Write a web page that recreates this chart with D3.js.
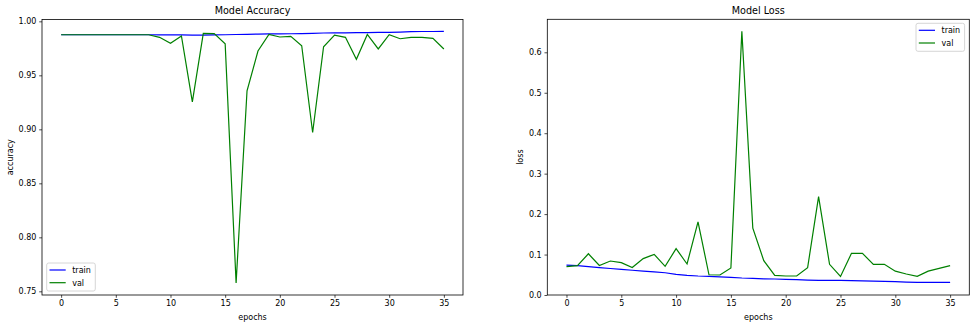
<!DOCTYPE html>
<html>
<head>
<meta charset="utf-8">
<title>Model Accuracy / Model Loss</title>
<script src="https://d3js.org/d3.v7.min.js"></script>
<style>
    body { margin: 0; background: #fff; }
    svg text { font-family: "DejaVu Sans", sans-serif; fill: #000; }
    .tick line { stroke: #000; stroke-width: 0.7px; }
    .domain { display: none; }
</style>
</head>
<body>
<svg width="977" height="327"></svg>
<script>
// epochs 0..35
const epochs = d3.range(36);

const accTrain = [0.9876, 0.9876, 0.9876, 0.9876, 0.9876, 0.9876, 0.9876, 0.9876, 0.9876, 0.9875,
                  0.9874, 0.9874, 0.9873, 0.9873, 0.9874, 0.9876, 0.9878, 0.9880, 0.9882, 0.9883,
                  0.9884, 0.9885, 0.9886, 0.9889, 0.9892, 0.9893, 0.9894, 0.9895, 0.9896, 0.9897,
                  0.9897, 0.9901, 0.9905, 0.9906, 0.9906, 0.9907];
const accVal = [0.9876, 0.9876, 0.9876, 0.9876, 0.9876, 0.9876, 0.9876, 0.9876, 0.9876, 0.9852,
                0.9796, 0.9864, 0.9255, 0.9889, 0.9886, 0.9793, 0.7577, 0.9357, 0.9725, 0.9879,
                0.9855, 0.9861, 0.9774, 0.8971, 0.9765, 0.9873, 0.9852, 0.9648, 0.9879, 0.9744,
                0.9876, 0.9839, 0.9852, 0.9852, 0.9842, 0.9744];

const lossTrain = [0.074, 0.0725, 0.070, 0.0676, 0.0655, 0.0635, 0.0612, 0.059, 0.057, 0.055,
                   0.051, 0.0486, 0.047, 0.046, 0.045, 0.0437, 0.042, 0.041, 0.040, 0.0395,
                   0.0387, 0.0378, 0.037, 0.036, 0.036, 0.036, 0.0355, 0.035, 0.0342, 0.0336,
                   0.033, 0.032, 0.031, 0.031, 0.031, 0.031];
const lossVal = [0.070, 0.0725, 0.102, 0.073, 0.084, 0.080, 0.068, 0.090, 0.1005, 0.071,
                 0.1146, 0.0767, 0.181, 0.050, 0.0495, 0.067, 0.652, 0.165, 0.085, 0.0486,
                 0.047, 0.047, 0.0676, 0.243, 0.0758, 0.046, 0.103, 0.103, 0.0758, 0.0758,
                 0.059, 0.052, 0.046, 0.059, 0.066, 0.0725];

const xTicks = [0, 5, 10, 15, 20, 25, 30, 35];
const accTicks = [0.75, 0.80, 0.85, 0.90, 0.95, 1.00];
const lossTicks = [0, 0.1, 0.2, 0.3, 0.4, 0.5, 0.6];

const svg = d3.select("svg");

function panel(opts) {
    const box = opts.box;
    const g = svg.append("g");

    const x = d3.scaleLinear().domain([-1.75, 36.75]).range([box.x0, box.x1]);
    const y = d3.scaleLinear().domain(opts.yDomain).range([box.y1, box.y0]);

    g.append("g")
        .attr("transform", `translate(0,${box.y1})`)
        .call(d3.axisBottom(x).tickValues(xTicks).tickFormat(d3.format("d")).tickSize(2.8).tickPadding(2.8))
        .call(a => a.selectAll("text").attr("font-size", "8px"));

    g.append("g")
        .attr("transform", `translate(${box.x0},0)`)
        .call(d3.axisLeft(y).tickValues(opts.yTicks).tickFormat(opts.yFormat).tickSize(2.8).tickPadding(2.8))
        .call(a => a.selectAll("text").attr("font-size", "8px"));

    const line = d3.line().x((d, i) => x(epochs[i])).y(d => y(d));

    g.append("path").datum(opts.train)
        .attr("fill", "none").attr("stroke", "#0000ff").attr("stroke-width", 1.2)
        .attr("d", line);
    g.append("path").datum(opts.val)
        .attr("fill", "none").attr("stroke", "#008000").attr("stroke-width", 1.2)
        .attr("d", line);

    // frame
    g.append("rect")
        .attr("x", box.x0).attr("y", box.y0)
        .attr("width", box.x1 - box.x0).attr("height", box.y1 - box.y0)
        .attr("fill", "none").attr("stroke", "#000").attr("stroke-width", 0.8);

    g.append("text")
        .attr("x", (box.x0 + box.x1) / 2).attr("y", box.y0 - 5.5)
        .attr("text-anchor", "middle").attr("font-size", "9.6px")
        .text(opts.title);

    g.append("text")
        .attr("x", (box.x0 + box.x1) / 2).attr("y", box.y1 + 24.5)
        .attr("text-anchor", "middle").attr("font-size", "8px")
        .text("epochs");

    g.append("text")
        .attr("transform", `translate(${opts.ylabelX},${(box.y0 + box.y1) / 2}) rotate(-90)`)
        .attr("text-anchor", "middle").attr("font-size", "8px")
        .text(opts.ylabel);

    // legend
    const L = opts.legend;
    const lg = g.append("g").attr("transform", `translate(${L.x},${L.y})`);
    lg.append("rect")
        .attr("width", 48.6).attr("height", 28).attr("rx", 2)
        .attr("fill", "#fff").attr("fill-opacity", 0.8)
        .attr("stroke", "#ccc").attr("stroke-width", 0.8);
    [["train", "#0000ff"], ["val", "#008000"]].forEach((s, i) => {
        const yy = 7 + i * 12.7;
        lg.append("line").attr("x1", 2.8).attr("x2", 19).attr("y1", yy).attr("y2", yy)
            .attr("stroke", s[1]).attr("stroke-width", 1.2);
        lg.append("text").attr("x", 25.5).attr("y", yy + 3)
            .attr("font-size", "8px").text(s[0]);
    });
}

panel({
    box: {x0: 42, x1: 463, y0: 19.5, y1: 295},
    yDomain: [0.7466, 1.0017],
    yTicks: accTicks,
    yFormat: d3.format(".2f"),
    train: accTrain, val: accVal,
    title: "Model Accuracy",
    ylabel: "accuracy",
    ylabelX: 12.5,
    legend: {x: 46.7, y: 263}
});

panel({
    box: {x0: 547.3, x1: 969.3, y0: 19.3, y1: 295},
    yDomain: [0.0, 0.6816],
    yTicks: lossTicks,
    yFormat: d3.format(".1f"),
    train: lossTrain, val: lossVal,
    title: "Model Loss",
    ylabel: "loss",
    ylabelX: 522.5,
    legend: {x: 916, y: 23.3}
});
</script>
</body>
</html>
